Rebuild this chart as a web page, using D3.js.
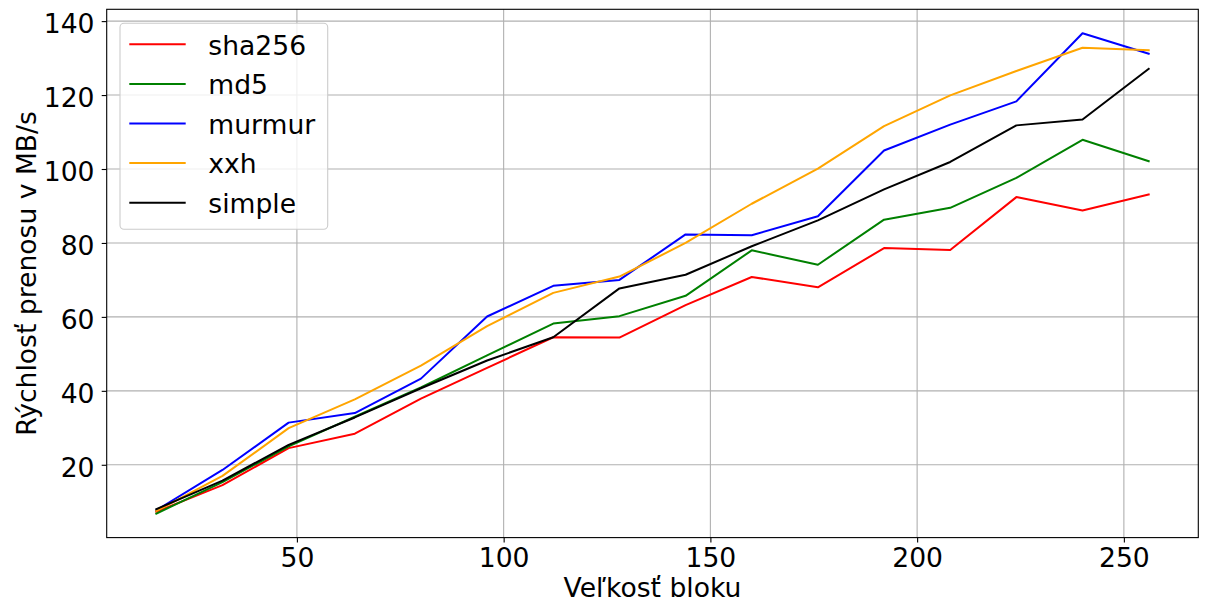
<!DOCTYPE html>
<html>
<head>
<meta charset="utf-8">
<script src="https://cdn.jsdelivr.net/npm/d3@7"></script>
<style>
  html, body { margin: 0; padding: 0; background: #fff; }
  text { font-family: "DejaVu Sans", sans-serif; fill: #000; }
</style>
</head>
<body>
<svg id="chart" width="1205" height="603"></svg>
<script>
// Block sizes (x axis)
const blockSizes = [16, 32, 48, 64, 80, 96, 112, 128, 144, 160, 176, 192, 208, 224, 240, 256];

// Transfer speed in MB/s per hash function
const sha256 = [7.3, 14.5, 24.5, 28.4, 37.9, 46.2, 54.5, 54.4, 63.2, 70.8, 68.0, 78.6, 78.1, 92.4, 88.8, 93.1];
const md5    = [6.8, 15.3, 25.0, 33.0, 40.9, 49.6, 58.2, 60.2, 65.7, 78.0, 74.1, 86.3, 89.5, 97.6, 107.9, 102.1];
const murmur = [7.7, 18.6, 31.4, 34.0, 43.3, 60.1, 68.4, 70.0, 82.3, 82.1, 87.2, 105.0, 112.0, 118.3, 136.7, 131.2];
const xxh    = [7.5, 17.0, 29.9, 37.7, 46.8, 57.5, 66.5, 70.9, 80.0, 90.6, 100.1, 111.6, 119.9, 126.5, 132.8, 132.1];
const simple = [8.0, 15.7, 25.4, 32.8, 40.7, 48.2, 54.5, 67.7, 71.4, 79.1, 86.1, 94.5, 101.9, 111.8, 113.4, 127.1];

const seriesNames = ["sha256", "md5", "murmur", "xxh", "simple"];
const seriesValues = [sha256, md5, murmur, xxh, simple];
const seriesColors = ["#ff0000", "#008000", "#0000ff", "#ffa500", "#000000"];

const xTicks = [50, 100, 150, 200, 250];
const yTicks = [20, 40, 60, 80, 100, 120, 140];
const xTitle = "Veľkosť bloku";
const yTitle = "Rýchlosť prenosu v MB/s";

const svg = d3.select("#chart");
const plot = { left: 106.7, right: 1198.3, top: 9.3, bottom: 537.6 };
const fontSize = 26.6;

// Data limits padded by 5% on each side
function padded(ext) {
  const m = (ext[1] - ext[0]) * 0.05;
  return [ext[0] - m, ext[1] + m];
}
const allY = seriesValues.flat();
const x = d3.scaleLinear().domain(padded(d3.extent(blockSizes))).range([plot.left, plot.right]);
const y = d3.scaleLinear().domain(padded(d3.extent(allY))).range([plot.bottom, plot.top]);

// Grid
const grid = svg.append("g");
grid.selectAll("line.gx").data(xTicks).join("line")
  .attr("x1", d => x(d)).attr("x2", d => x(d))
  .attr("y1", plot.top).attr("y2", plot.bottom)
  .attr("stroke", "#b0b0b0").attr("stroke-width", 1.1);
grid.selectAll("line.gy").data(yTicks).join("line")
  .attr("x1", plot.left).attr("x2", plot.right)
  .attr("y1", d => y(d)).attr("y2", d => y(d))
  .attr("stroke", "#b0b0b0").attr("stroke-width", 1.1);

// Axes
const xAxis = d3.axisBottom(x).tickValues(xTicks).tickSize(5).tickPadding(7).tickFormat(d3.format("d"));
const yAxis = d3.axisLeft(y).tickValues(yTicks).tickSize(5).tickPadding(7).tickFormat(d3.format("d"));

const gx = svg.append("g").attr("transform", `translate(0,${plot.bottom})`).call(xAxis);
const gy = svg.append("g").attr("transform", `translate(${plot.left},0)`).call(yAxis);
[gx, gy].forEach(g => {
  g.select(".domain").remove();
  g.selectAll(".tick line").attr("stroke", "#000").attr("stroke-width", 1.1);
  g.selectAll(".tick text").attr("font-size", fontSize).attr("font-family", "DejaVu Sans").attr("fill", "#000");
});
gx.selectAll(".tick text").attr("dy", null).attr("y", 29).attr("dominant-baseline", "auto");
gy.selectAll(".tick text").attr("dy", null).attr("y", 11.3).attr("x", -12.2);

// Lines
const line = d3.line().x((d, i) => x(blockSizes[i])).y(d => y(d));
svg.append("g").selectAll("path").data(seriesValues).join("path")
  .attr("d", d => line(d))
  .attr("fill", "none")
  .attr("stroke", (d, i) => seriesColors[i])
  .attr("stroke-width", 2)
  .attr("stroke-linejoin", "round")
  .attr("stroke-linecap", "square");

// Frame
svg.append("rect")
  .attr("x", plot.left).attr("y", plot.top)
  .attr("width", plot.right - plot.left).attr("height", plot.bottom - plot.top)
  .attr("fill", "none").attr("stroke", "#000").attr("stroke-width", 1.1);

// Axis titles
svg.append("text")
  .attr("x", (plot.left + plot.right) / 2).attr("y", 597)
  .attr("text-anchor", "middle").attr("font-size", fontSize)
  .text(xTitle);
svg.append("text")
  .attr("transform", `translate(36,${(plot.top + plot.bottom) / 2}) rotate(-90)`)
  .attr("text-anchor", "middle").attr("font-size", fontSize)
  .text(yTitle);

// Legend
const legend = svg.append("g");
legend.append("rect")
  .attr("x", 120).attr("y", 23.3).attr("width", 207.7).attr("height", 206)
  .attr("rx", 4).attr("ry", 4)
  .attr("fill", "#fff").attr("fill-opacity", 0.8)
  .attr("stroke", "#cccccc").attr("stroke-width", 1.1);
const rows = legend.selectAll("g.row").data(seriesNames).join("g")
  .attr("transform", (d, i) => `translate(0,${44.3 + i * 39.6})`);
rows.append("line")
  .attr("x1", 129.3).attr("x2", 185.7).attr("y1", 0).attr("y2", 0)
  .attr("stroke", (d, i) => seriesColors[i]).attr("stroke-width", 2);
rows.append("text")
  .attr("x", 208.3).attr("y", 10.3)
  .attr("font-size", fontSize)
  .text(d => d);
</script>
</body>
</html>
